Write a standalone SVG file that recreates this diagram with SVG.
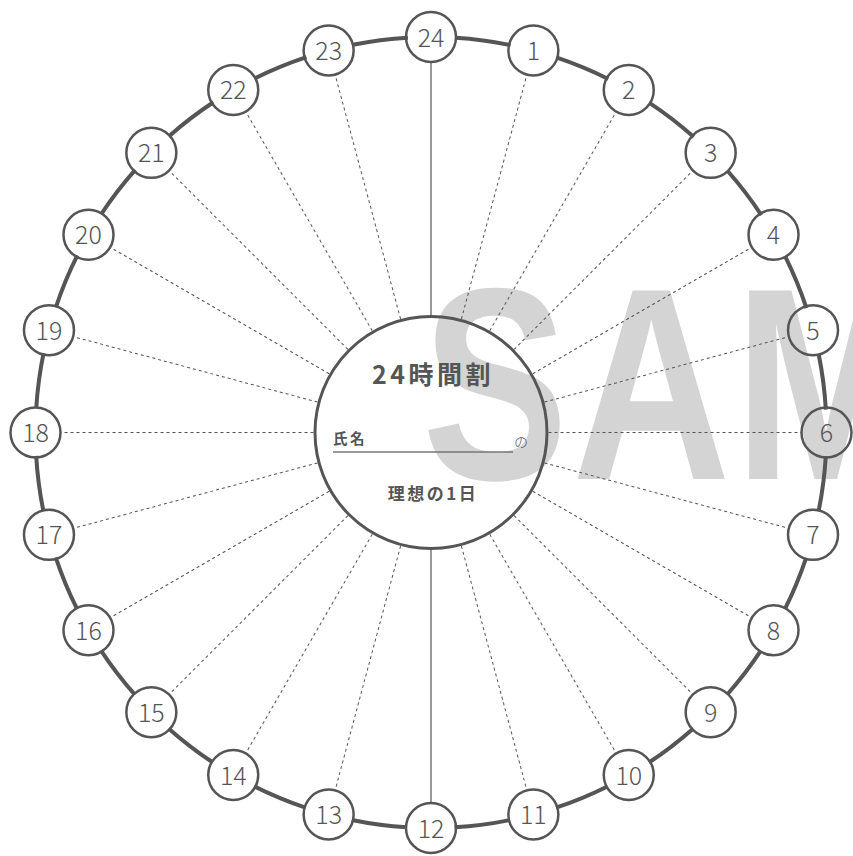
<svg xmlns="http://www.w3.org/2000/svg" width="853" height="856" viewBox="0 0 853 856">
<style>
.bg{fill:#ffffff}
.wm{font-family:"Liberation Sans",Arial,sans-serif;font-weight:700;font-size:274px;fill:#d4d4d4}
.ring{fill:none;stroke:#555;stroke-width:4}
.num circle{fill:none;stroke:#555;stroke-width:2.5}
.num text{font-family:"Noto Sans CJK JP","Noto Sans",sans-serif;font-weight:300;font-size:25px;fill:#555;text-anchor:middle}
.dash{stroke:#555;stroke-width:1;stroke-dasharray:3 3;fill:none}
.solid{stroke:#777;stroke-width:1.5;fill:none}
.main{fill:none;stroke:#555;stroke-width:3}
.t{font-family:"Noto Sans CJK JP","Noto Sans",sans-serif;fill:#555}
</style>
<rect class="bg" x="0" y="0" width="853" height="856"/>
<text class="wm" transform="translate(422,479) scale(0.8,1)" x="0" y="0" letter-spacing="5">SAMPLE</text>
<circle class="ring" cx="431" cy="432.5" r="395.5" stroke-dasharray="55.54 48" stroke-dashoffset="79.54"/>
<g id="connectors">
<line class="solid" x1="431" y1="62" x2="431" y2="315"/>
<line class="solid" x1="431" y1="550" x2="431" y2="803"/>
<g transform="translate(431,432.5)">
<line class="dash" transform="rotate(15)" x1="0" y1="-117.5" x2="0" y2="-370.5"/>
<line class="dash" transform="rotate(30)" x1="0" y1="-117.5" x2="0" y2="-370.5"/>
<line class="dash" transform="rotate(45)" x1="0" y1="-117.5" x2="0" y2="-370.5"/>
<line class="dash" transform="rotate(60)" x1="0" y1="-117.5" x2="0" y2="-370.5"/>
<line class="dash" transform="rotate(75)" x1="0" y1="-117.5" x2="0" y2="-370.5"/>
<line class="dash" transform="rotate(90)" x1="0" y1="-117.5" x2="0" y2="-370.5"/>
<line class="dash" transform="rotate(105)" x1="0" y1="-117.5" x2="0" y2="-370.5"/>
<line class="dash" transform="rotate(120)" x1="0" y1="-117.5" x2="0" y2="-370.5"/>
<line class="dash" transform="rotate(135)" x1="0" y1="-117.5" x2="0" y2="-370.5"/>
<line class="dash" transform="rotate(150)" x1="0" y1="-117.5" x2="0" y2="-370.5"/>
<line class="dash" transform="rotate(165)" x1="0" y1="-117.5" x2="0" y2="-370.5"/>
<line class="dash" transform="rotate(195)" x1="0" y1="-117.5" x2="0" y2="-370.5"/>
<line class="dash" transform="rotate(210)" x1="0" y1="-117.5" x2="0" y2="-370.5"/>
<line class="dash" transform="rotate(225)" x1="0" y1="-117.5" x2="0" y2="-370.5"/>
<line class="dash" transform="rotate(240)" x1="0" y1="-117.5" x2="0" y2="-370.5"/>
<line class="dash" transform="rotate(255)" x1="0" y1="-117.5" x2="0" y2="-370.5"/>
<line class="dash" transform="rotate(270)" x1="0" y1="-117.5" x2="0" y2="-370.5"/>
<line class="dash" transform="rotate(285)" x1="0" y1="-117.5" x2="0" y2="-370.5"/>
<line class="dash" transform="rotate(300)" x1="0" y1="-117.5" x2="0" y2="-370.5"/>
<line class="dash" transform="rotate(315)" x1="0" y1="-117.5" x2="0" y2="-370.5"/>
<line class="dash" transform="rotate(330)" x1="0" y1="-117.5" x2="0" y2="-370.5"/>
<line class="dash" transform="rotate(345)" x1="0" y1="-117.5" x2="0" y2="-370.5"/>
</g>
</g>
<g id="center">
<circle class="main" cx="431" cy="432.5" r="116"/>
<text class="t" x="433" y="383.5" font-size="25" font-weight="700" letter-spacing="3.5" text-anchor="middle">24時間割</text>
<text class="t" x="333" y="444" font-size="14.5" font-weight="700" letter-spacing="2.5">氏名</text>
<line x1="333" y1="452" x2="513" y2="452" stroke="#777" stroke-width="1.5"/>
<text class="t" x="514" y="446.5" font-size="14" font-weight="300" fill="#888">の</text>
<text class="t" x="433" y="500" font-size="17" font-weight="700" letter-spacing="2.5" text-anchor="middle">理想の1日</text>
</g>
<g class="num" transform="translate(431,432.5)">
<g id="h24" transform="rotate(0) translate(0,-395.5) rotate(0)"><circle r="25"/><text y="9.5">24</text></g>
<g id="h1" transform="rotate(15) translate(0,-395.5) rotate(-15)"><circle r="25"/><text y="9.5">1</text></g>
<g id="h2" transform="rotate(30) translate(0,-395.5) rotate(-30)"><circle r="25"/><text y="9.5">2</text></g>
<g id="h3" transform="rotate(45) translate(0,-395.5) rotate(-45)"><circle r="25"/><text y="9.5">3</text></g>
<g id="h4" transform="rotate(60) translate(0,-395.5) rotate(-60)"><circle r="25"/><text y="9.5">4</text></g>
<g id="h5" transform="rotate(75) translate(0,-395.5) rotate(-75)"><circle r="25"/><text y="9.5">5</text></g>
<g id="h6" transform="rotate(90) translate(0,-395.5) rotate(-90)"><circle r="25"/><text y="9.5">6</text></g>
<g id="h7" transform="rotate(105) translate(0,-395.5) rotate(-105)"><circle r="25"/><text y="9.5">7</text></g>
<g id="h8" transform="rotate(120) translate(0,-395.5) rotate(-120)"><circle r="25"/><text y="9.5">8</text></g>
<g id="h9" transform="rotate(135) translate(0,-395.5) rotate(-135)"><circle r="25"/><text y="9.5">9</text></g>
<g id="h10" transform="rotate(150) translate(0,-395.5) rotate(-150)"><circle r="25"/><text y="9.5">10</text></g>
<g id="h11" transform="rotate(165) translate(0,-395.5) rotate(-165)"><circle r="25"/><text y="9.5">11</text></g>
<g id="h12" transform="rotate(180) translate(0,-395.5) rotate(-180)"><circle r="25"/><text y="9.5">12</text></g>
<g id="h13" transform="rotate(195) translate(0,-395.5) rotate(-195)"><circle r="25"/><text y="9.5">13</text></g>
<g id="h14" transform="rotate(210) translate(0,-395.5) rotate(-210)"><circle r="25"/><text y="9.5">14</text></g>
<g id="h15" transform="rotate(225) translate(0,-395.5) rotate(-225)"><circle r="25"/><text y="9.5">15</text></g>
<g id="h16" transform="rotate(240) translate(0,-395.5) rotate(-240)"><circle r="25"/><text y="9.5">16</text></g>
<g id="h17" transform="rotate(255) translate(0,-395.5) rotate(-255)"><circle r="25"/><text y="9.5">17</text></g>
<g id="h18" transform="rotate(270) translate(0,-395.5) rotate(-270)"><circle r="25"/><text y="9.5">18</text></g>
<g id="h19" transform="rotate(285) translate(0,-395.5) rotate(-285)"><circle r="25"/><text y="9.5">19</text></g>
<g id="h20" transform="rotate(300) translate(0,-395.5) rotate(-300)"><circle r="25"/><text y="9.5">20</text></g>
<g id="h21" transform="rotate(315) translate(0,-395.5) rotate(-315)"><circle r="25"/><text y="9.5">21</text></g>
<g id="h22" transform="rotate(330) translate(0,-395.5) rotate(-330)"><circle r="25"/><text y="9.5">22</text></g>
<g id="h23" transform="rotate(345) translate(0,-395.5) rotate(-345)"><circle r="25"/><text y="9.5">23</text></g>
</g>
</svg>
